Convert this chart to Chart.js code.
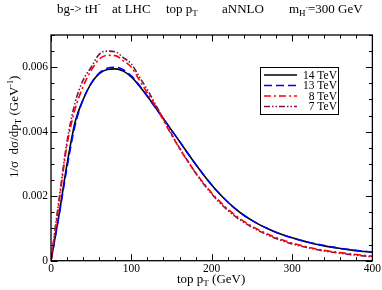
<!DOCTYPE html>
<html>
<head>
<meta charset="utf-8">
<script src="https://cdn.jsdelivr.net/npm/chart.js@4.4.0/dist/chart.umd.min.js"></script>
<style>
  html, body { margin: 0; padding: 0; background: #fff; }
  #wrap { width: 382px; height: 290px; }
</style>
</head>
<body>
<div id="wrap"><canvas id="chart" width="382" height="290"></canvas></div>
<script>
// top pT values (GeV) where the curves were read
const pt = [0, 10, 20, 30, 40, 50, 60, 70, 80, 90, 100, 110, 120, 130, 140, 150, 160, 170, 180, 190,
  200, 210, 220, 230, 240, 250, 260, 270, 280, 290, 300, 320, 340, 360, 380, 400];

// 1/sigma dsigma/dpT per energy
const tev14 = [0, 0.00143, 0.0030, 0.0043, 0.0050, 0.0055, 0.0058, 0.00593, 0.00595, 0.00588, 0.0057, 0.00542,
  0.0051, 0.00475, 0.0044, 0.00405, 0.0037, 0.00334, 0.00299, 0.00266, 0.00235, 0.00207, 0.00182, 0.0016,
  0.00141, 0.00125, 0.00111, 0.00099, 0.00088, 0.00079, 0.00071, 0.00057, 0.00046, 0.00038, 0.00031, 0.00026];
const tev13 = [0, 0.0014, 0.0029, 0.0042, 0.0050, 0.0055, 0.00582, 0.00597, 0.006, 0.00592, 0.00573, 0.00544,
  0.0051, 0.00475, 0.0044, 0.00405, 0.0037, 0.00334, 0.00299, 0.00266, 0.00235, 0.00207, 0.00182, 0.0016,
  0.00141, 0.00125, 0.00111, 0.00099, 0.00088, 0.00079, 0.00071, 0.00057, 0.00047, 0.00038, 0.00032, 0.00027];
const tev8 = [0, 0.0018, 0.0036, 0.0047, 0.0054, 0.0059, 0.00625, 0.00637, 0.00636, 0.0062, 0.006, 0.0056,
  0.0052, 0.0048, 0.00435, 0.0039, 0.00348, 0.00309, 0.00273, 0.0024, 0.0021, 0.00184, 0.0016, 0.0014,
  0.00122, 0.00107, 0.00094, 0.00082, 0.00072, 0.00063, 0.00055, 0.00042, 0.00032, 0.00025, 0.00019, 0.00014];
const tev7 = [0, 0.0019, 0.0037, 0.0049, 0.0056, 0.006, 0.0064, 0.0065, 0.00648, 0.0063, 0.0061, 0.0057,
  0.0053, 0.00485, 0.0044, 0.00393, 0.0035, 0.0031, 0.00272, 0.00238, 0.00207, 0.0018, 0.00156, 0.00136,
  0.00119, 0.00104, 0.00091, 0.00079, 0.00069, 0.0006, 0.00052, 0.0004, 0.0003, 0.00023, 0.00017, 0.00012];

const seriesLabels = ['14 TeV', '13 TeV', '8 TeV', '7 TeV'];
const xTicks = [0, 100, 200, 300, 400];
const yTicks = [0, 0.002, 0.004, 0.006];
const yTickLabels = ['0', '0.002', '0.004', '0.006'];

const serif = "'Liberation Serif', 'DejaVu Serif', serif";

function toPoints(ys) {
  return ys.map((y, i) => ({ x: pt[i], y: y }));
}

// draws text with sub/superscript pieces; parts = [text, dy, size]
function drawRich(ctx, parts, x, y) {
  parts.forEach(([t, dy, size]) => {
    ctx.font = size + 'px ' + serif;
    ctx.fillText(t, x, y + dy);
    x += ctx.measureText(t).width;
  });
}

const decorations = {
  id: 'decorations',
  afterDraw(chart) {
    const ctx = chart.ctx;
    const a = chart.chartArea;
    const xs = chart.scales.x;
    const ys = chart.scales.y;
    ctx.save();
    ctx.strokeStyle = '#000';
    ctx.lineWidth = 1;

    // inward ticks on all four sides
    ctx.beginPath();
    for (let v = 0; v <= 400; v += 20) {
      const px = Math.round(xs.getPixelForValue(v)) + 0.5;
      const len = v % 100 === 0 ? 6.5 : 3.5;
      ctx.moveTo(px, a.bottom); ctx.lineTo(px, a.bottom - len);
      ctx.moveTo(px, a.top); ctx.lineTo(px, a.top + len);
    }
    for (let k = 0; k <= 14; k++) {
      const v = k * 0.0005;
      const py = Math.round(ys.getPixelForValue(v)) + 0.5;
      const len = k % 4 === 0 ? 6.5 : 3.5;
      ctx.moveTo(a.left, py); ctx.lineTo(a.left + len, py);
      ctx.moveTo(a.right, py); ctx.lineTo(a.right - len, py);
    }
    ctx.stroke();
    ctx.lineWidth = 1.3;
    ctx.strokeRect(a.left, a.top, a.right - a.left, a.bottom - a.top);

    // legend
    ctx.lineWidth = 1;
    ctx.strokeStyle = '#000';
    ctx.strokeRect(260.5, 67.5, 78, 47);
    const rowY = [75, 85.5, 96, 106.5];
    chart.data.datasets.forEach((ds, i) => {
      ctx.beginPath();
      ctx.setLineDash(ds.borderDash || []);
      ctx.strokeStyle = ds.borderColor;
      ctx.lineWidth = ds.borderWidth;
      ctx.moveTo(264, rowY[i]);
      ctx.lineTo(297, rowY[i]);
      ctx.stroke();
      ctx.setLineDash([]);
      ctx.fillStyle = '#000';
      ctx.font = '11.5px ' + serif;
      ctx.textAlign = 'right';
      ctx.textBaseline = 'middle';
      ctx.fillText(ds.label, 337, rowY[i] + 0.5);
    });

    // title and axis titles
    ctx.fillStyle = '#000';
    ctx.textAlign = 'left';
    ctx.textBaseline = 'alphabetic';
    drawRich(ctx, [['bg-> tH', 0, 13], ['-', -6, 8]], 57, 13);
    drawRich(ctx, [['at LHC', 0, 13]], 112, 13);
    drawRich(ctx, [['top p', 0, 13], ['T', 3, 9]], 166, 13);
    drawRich(ctx, [['aNNLO', 0, 13]], 222, 13);
    drawRich(ctx, [['m', 0, 13], ['H', 3, 9], ['-', -4, 7], ['=300 GeV', 0, 13]], 289, 13);

    drawRich(ctx, [['top p', 0, 13], ['T', 3, 9], [' (GeV)', 0, 13]], 177, 283);

    ctx.translate(18, 178);
    ctx.rotate(-Math.PI / 2);
    drawRich(ctx, [['1/\u03c3  d\u03c3/dp', 0, 13], ['T', 3, 9], [' (GeV', 0, 13], ['-1', -5, 8], [')', 0, 13]], 0, 0);
    ctx.restore();
  }
};

new Chart(document.getElementById('chart'), {
  type: 'line',
  data: {
    datasets: [
      { label: seriesLabels[0], data: toPoints(tev14), borderColor: '#000000', borderWidth: 1.6, order: 4 },
      { label: seriesLabels[1], data: toPoints(tev13), borderColor: '#0000ff', borderWidth: 1.6, borderDash: [8, 4], order: 3 },
      { label: seriesLabels[2], data: toPoints(tev8), borderColor: '#ff0000', borderWidth: 1.6, borderDash: [7, 3, 2, 3], order: 1 },
      { label: seriesLabels[3], data: toPoints(tev7), borderColor: '#7a1250', borderWidth: 1.6, borderDash: [6, 2, 1.5, 2, 1.5, 2], order: 2 }
    ]
  },
  options: {
    responsive: false,
    animation: false,
    events: [],
    layout: { padding: { top: 35, right: 9.5, left: 0, bottom: 0 } },
    elements: {
      point: { radius: 0 },
      line: { cubicInterpolationMode: 'monotone', fill: false }
    },
    plugins: { legend: { display: false }, tooltip: { enabled: false }, title: { display: false } },
    scales: {
      x: {
        type: 'linear',
        min: 0,
        max: 400,
        grid: { display: false, drawTicks: false, tickLength: 0 },
        border: { display: false },
        afterBuildTicks: (scale) => { scale.ticks = xTicks.map((v) => ({ value: v })); },
        afterFit: (scale) => { scale.height = 29.3; },
        ticks: { color: '#000', font: { family: serif, size: 11.5 }, padding: 1, maxRotation: 0 }
      },
      y: {
        type: 'linear',
        min: 0,
        max: 0.007,
        grid: { display: false, drawTicks: false, tickLength: 0 },
        border: { display: false },
        afterBuildTicks: (scale) => { scale.ticks = yTicks.map((v) => ({ value: v })); },
        afterFit: (scale) => { scale.width = 51; },
        ticks: {
          color: '#000',
          font: { family: serif, size: 11.5 },
          padding: 3,
          callback: (value) => yTickLabels[yTicks.indexOf(value)]
        }
      }
    }
  },
  plugins: [decorations]
});
</script>
</body>
</html>
